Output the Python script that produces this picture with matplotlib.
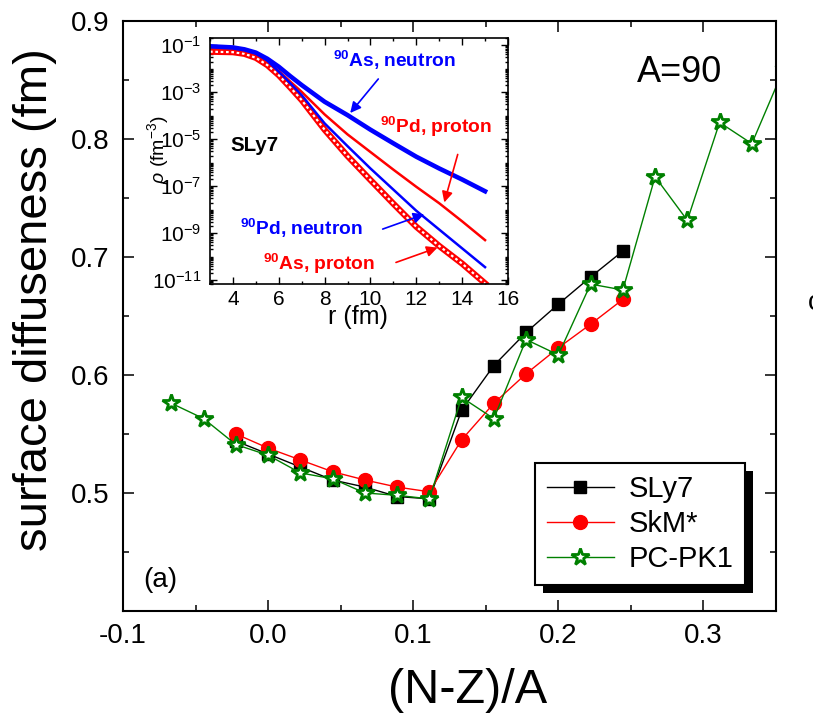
import numpy as np
import matplotlib
matplotlib.use('Agg')
import matplotlib.pyplot as plt
from matplotlib.ticker import MultipleLocator, FixedLocator, FormatStrFormatter, LogLocator, NullFormatter
from matplotlib.patches import Rectangle
from matplotlib.transforms import IdentityTransform

plt.rcParams['font.family'] = ['Liberation Sans', 'DejaVu Sans']
plt.rcParams['mathtext.fontset'] = 'custom'
plt.rcParams['mathtext.rm'] = 'Liberation Sans'
plt.rcParams['mathtext.bf'] = 'Liberation Sans:bold'
plt.rcParams['mathtext.it'] = 'Liberation Sans:italic'
plt.rcParams['axes.unicode_minus'] = False

# main panel data: A = 90, x = (N-Z)/A
A = 90
nz_sly7 = [-2, 0, 2, 4, 6, 8, 10, 12, 14, 16, 18, 20, 22]
sly7 = [0.544, 0.533, 0.522, 0.511, 0.505, 0.497, 0.495, 0.570, 0.608, 0.636, 0.660, 0.683, 0.705]
nz_skm = [-2, 0, 2, 4, 6, 8, 10, 12, 14, 16, 18, 20, 22]
skm = [0.550, 0.538, 0.528, 0.518, 0.511, 0.505, 0.501, 0.545, 0.576, 0.601, 0.623, 0.643, 0.664]
nz_pcpk1 = [-6, -4, -2, 0, 2, 4, 6, 8, 10, 12, 14, 16, 18, 20, 22, 24, 26, 28, 30, 32]
pcpk1 = [0.576, 0.563, 0.541, 0.532, 0.517, 0.512, 0.500, 0.498, 0.495, 0.581,
         0.563, 0.630, 0.617, 0.677, 0.672, 0.768, 0.731, 0.814, 0.796, 0.860]

# inset data: log10 of density (fm^-3) vs r (fm), SLy7
r = [3, 4, 4.5, 5, 5.5, 6, 6.5, 7, 8, 9, 10, 11, 12, 13, 14, 15]
as_neutron = [-1.05, -1.10, -1.18, -1.32, -1.58, -1.92, -2.32, -2.70, -3.41, -3.98, -4.60, -5.18, -5.75, -6.25, -6.72, -7.22]
pd_neutron = [-1.05, -1.10, -1.18, -1.34, -1.66, -2.13, -2.62, -3.13, -4.33, -5.30, -6.25, -7.15, -8.05, -8.85, -9.65, -10.45]
pd_proton = [-1.15, -1.19, -1.26, -1.40, -1.68, -2.10, -2.55, -2.99, -3.95, -4.80, -5.55, -6.30, -7.03, -7.73, -8.50, -9.30]
as_proton = [-1.28, -1.30, -1.37, -1.54, -1.85, -2.28, -2.80, -3.34, -4.60, -5.72, -6.74, -7.75, -8.73, -9.55, -10.30, -11.14]

fig = plt.figure(figsize=(8.13, 7.15), dpi=100)
ax = fig.add_axes([0.1513, 0.1455, 0.8032, 0.8252])

ax.plot(np.array(nz_sly7) / A, sly7, color='black', lw=1, marker='s', ms=9, label='SLy7')
ax.plot(np.array(nz_skm) / A, skm, color='red', lw=1, marker='o', ms=10, label='SkM*')
ax.plot(np.array(nz_pcpk1) / A, pcpk1, color='green', lw=1, marker='*', ms=13,
        mfc='white', mec='green', mew=2, label='PC-PK1')

ax.set_xlim(-0.1, 0.35)
ax.set_ylim(0.4, 0.9)
ax.xaxis.set_major_locator(MultipleLocator(0.1))
ax.xaxis.set_minor_locator(MultipleLocator(0.05))
ax.xaxis.set_major_formatter(FormatStrFormatter('%.1f'))
ax.yaxis.set_major_locator(FixedLocator([0.5, 0.6, 0.7, 0.8, 0.9]))
ax.yaxis.set_minor_locator(FixedLocator([0.45, 0.55, 0.65, 0.75, 0.85]))
ax.yaxis.set_major_formatter(FormatStrFormatter('%.1f'))
ax.tick_params(which='both', direction='in', top=True, right=True, width=1.1)
ax.tick_params(which='major', length=8, labelsize=20)
ax.tick_params(which='minor', length=4.5)
ax.tick_params(axis='x', pad=9)
ax.tick_params(axis='y', pad=10)
for s in ax.spines.values():
    s.set_linewidth(1.5)

ax.set_xlabel('(N-Z)/A', fontsize=35)
ax.set_ylabel('surface diffuseness (fm)', fontsize=34)
ax.xaxis.set_label_coords(0.527, -0.134)
ax.xaxis.label.set_va('center')
ax.yaxis.set_label_coords(-0.135, 0.527)
ax.yaxis.label.set_va('center')

ax.text(0.8364, 0.8993, 'A=90', transform=fig.transFigure, fontsize=26, ha='center', va='center')
ax.text(0.1968, 0.1888, '(a)', transform=fig.transFigure, fontsize=20, ha='center', va='center')

leg = ax.legend(loc='lower right', bbox_to_anchor=(0.9525, 0.044), borderaxespad=0,
                fontsize=21, fancybox=False, framealpha=1, edgecolor='black',
                handlelength=2.3, labelspacing=0.25, borderpad=0.4, handletextpad=0.5)
leg.get_frame().set_linewidth(1.5)

# partial label from the neighbouring panel
fig.text(808 / 813, 1 - 303 / 715, 'c', fontsize=20, ha='left', va='center')

# inset
axin = fig.add_axes([0.2583, 0.6028, 0.3665, 0.344])
axin.set_yscale('log')
axin.plot(r, 10 ** np.array(as_proton), color='red', lw=4.5)
axin.plot(r, 10 ** np.array(as_proton), color='white', lw=1.6, dashes=(1.2, 1.2))
axin.plot(r, 10 ** np.array(pd_proton), color='red', lw=1.8)
axin.plot(r, 10 ** np.array(pd_neutron), color='blue', lw=1.8)
axin.plot(r, 10 ** np.array(as_neutron), color='blue', lw=3.3)

axin.set_xlim(3, 16)
axin.set_ylim(6.8e-12, 0.2)
axin.xaxis.set_major_locator(MultipleLocator(2))
axin.xaxis.set_minor_locator(MultipleLocator(1))
axin.yaxis.set_major_locator(FixedLocator([1e-1, 1e-3, 1e-5, 1e-7, 1e-9, 1e-11]))
axin.yaxis.set_minor_locator(LogLocator(base=10, subs=np.arange(1, 10), numticks=100))
axin.yaxis.set_minor_formatter(NullFormatter())
axin.tick_params(which='both', direction='in', top=True, right=True, width=1)
axin.tick_params(which='major', length=5, labelsize=15)
axin.tick_params(which='minor', length=2.5)
axin.tick_params(axis='y', pad=6)
axin.tick_params(axis='x', pad=4)
for s in axin.spines.values():
    s.set_linewidth(1.2)

axin.set_xlabel('r (fm)', fontsize=18)
axin.set_ylabel(r'$\rho$ (fm$^{-3}$)', fontsize=14)
axin.xaxis.set_label_coords(0.497, -0.134)
axin.xaxis.label.set_va('center')
axin.yaxis.set_label_coords(-0.175, 0.545)
axin.yaxis.label.set_va('center')

arrow_blue = dict(arrowstyle='-|>', color='blue', lw=1.2, mutation_scale=16)
arrow_red = dict(arrowstyle='-|>', color='red', lw=1.2, mutation_scale=16)
axin.annotate('', xy=(9.04, 10 ** -3.98), xytext=(10.42, 10 ** -2.35), arrowprops=arrow_blue)
axin.annotate('', xy=(13.19, 10 ** -7.81), xytext=(13.84, 10 ** -5.54), arrowprops=arrow_red)
axin.annotate('', xy=(12.46, 10 ** -8.16), xytext=(10.42, 10 ** -8.87), arrowprops=arrow_blue)
axin.annotate('', xy=(13.04, 10 ** -9.58), xytext=(11.0, 10 ** -10.29), arrowprops=arrow_red)

lab_size = 13.8
axin.text(8.37, 10 ** -1.64, r'$^{\mathbf{90}}$As, neutron', color='blue', fontsize=lab_size,
          fontweight='bold', ha='left', va='center')
axin.text(10.42, 10 ** -4.49, r'$^{\mathbf{90}}$Pd, proton', color='red', fontsize=lab_size,
          fontweight='bold', ha='left', va='center')
axin.text(3.87, 10 ** -5.26, 'SLy7', color='black', fontsize=lab_size + 1, fontweight='bold',
          ha='left', va='center')
axin.text(4.31, 10 ** -8.79, r'$^{\mathbf{90}}$Pd, neutron', color='blue', fontsize=lab_size,
          fontweight='bold', ha='left', va='center')
axin.text(5.31, 10 ** -10.32, r'$^{\mathbf{90}}$As, proton', color='red', fontsize=lab_size,
          fontweight='bold', ha='left', va='center')

# black drop shadow behind the legend box
fig.canvas.draw()
bb = leg.get_window_extent()
ax.add_patch(Rectangle((bb.x0 + 8, bb.y0 - 8), bb.width, bb.height, transform=IdentityTransform(),
                       facecolor='black', edgecolor='none', clip_on=False, zorder=4.9))

fig.savefig('out.png', dpi=100)
